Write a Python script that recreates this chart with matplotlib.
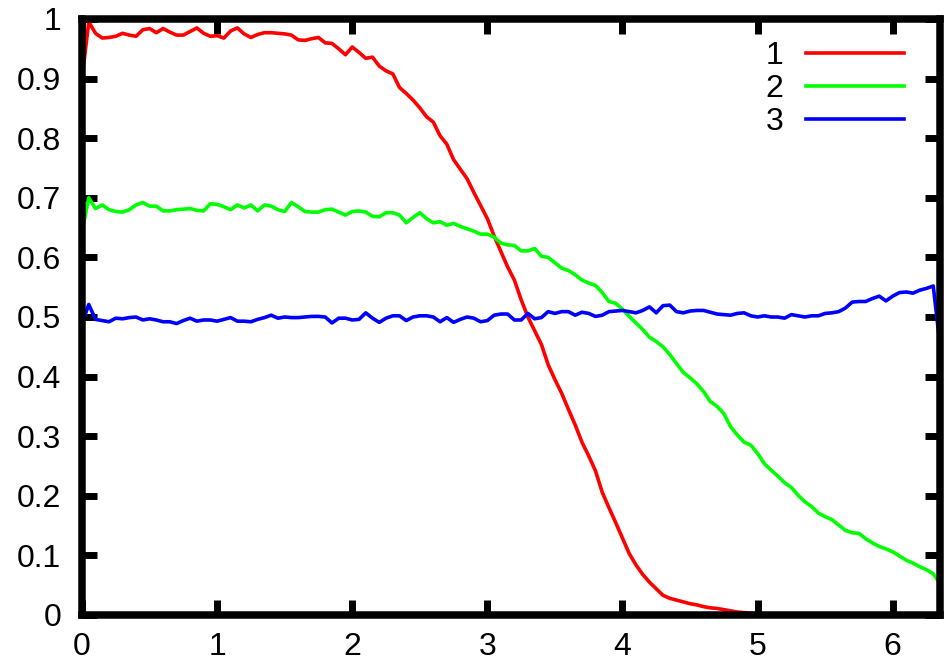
import numpy as np
import matplotlib
matplotlib.use("Agg")
import matplotlib.pyplot as plt

plt.rcParams['font.family'] = ['Liberation Sans', 'DejaVu Sans']

# sample positions (step 0.05 from 0 to 6.35)
x = np.round(np.arange(128) * 0.05, 2)

series_labels = ['1', '2', '3']
series_colors = ['#ff0000', '#00ff00', '#0000ff']

curve_1 = [
    0.900, 0.995, 0.976, 0.968, 0.969, 0.971, 0.976, 0.973, 0.971, 0.982,
    0.984, 0.977, 0.984, 0.978, 0.973, 0.973, 0.979, 0.985, 0.976, 0.971,
    0.972, 0.968, 0.980, 0.985, 0.975, 0.969, 0.974, 0.977, 0.977, 0.976,
    0.975, 0.973, 0.965, 0.964, 0.967, 0.969, 0.960, 0.959, 0.950, 0.940,
    0.953, 0.944, 0.934, 0.936, 0.921, 0.913, 0.908, 0.885, 0.875, 0.864,
    0.851, 0.836, 0.827, 0.804, 0.790, 0.764, 0.748, 0.732, 0.709, 0.687,
    0.665, 0.636, 0.610, 0.584, 0.562, 0.529, 0.500, 0.477, 0.454, 0.420,
    0.395, 0.372, 0.345, 0.319, 0.290, 0.267, 0.242, 0.206, 0.180, 0.155,
    0.129, 0.103, 0.084, 0.068, 0.055, 0.044, 0.033, 0.028, 0.025, 0.022,
    0.019, 0.017, 0.014, 0.012, 0.011, 0.009, 0.007, 0.005, 0.004, 0.003,
    0.002, 0.001, 0.000, 0.000, 0.000, 0.000, 0.000, 0.000, 0.000, 0.000,
    0.000, 0.000, 0.000, 0.000, 0.000, 0.000, 0.000, 0.000, 0.000, 0.000,
    0.000, 0.000, 0.000, 0.000, 0.000, 0.000, 0.000, 0.000,
]

curve_2 = [
    0.643, 0.700, 0.682, 0.688, 0.680, 0.677, 0.676, 0.680, 0.688, 0.692,
    0.686, 0.686, 0.678, 0.678, 0.680, 0.681, 0.682, 0.679, 0.678, 0.690,
    0.689, 0.685, 0.680, 0.688, 0.683, 0.688, 0.678, 0.688, 0.686, 0.680,
    0.677, 0.692, 0.685, 0.677, 0.676, 0.676, 0.680, 0.681, 0.676, 0.671,
    0.677, 0.678, 0.676, 0.669, 0.668, 0.675, 0.675, 0.671, 0.658, 0.667,
    0.675, 0.665, 0.658, 0.660, 0.654, 0.657, 0.652, 0.648, 0.644, 0.639,
    0.639, 0.634, 0.624, 0.621, 0.620, 0.611, 0.611, 0.615, 0.602, 0.600,
    0.591, 0.582, 0.578, 0.571, 0.562, 0.557, 0.553, 0.541, 0.526, 0.523,
    0.513, 0.501, 0.490, 0.479, 0.466, 0.459, 0.450, 0.437, 0.422, 0.407,
    0.398, 0.388, 0.375, 0.358, 0.350, 0.338, 0.316, 0.302, 0.290, 0.285,
    0.271, 0.254, 0.243, 0.233, 0.222, 0.214, 0.201, 0.190, 0.182, 0.171,
    0.165, 0.160, 0.151, 0.142, 0.138, 0.137, 0.128, 0.121, 0.115, 0.111,
    0.106, 0.099, 0.092, 0.087, 0.081, 0.076, 0.069, 0.053,
]

curve_3 = [
    0.489, 0.521, 0.496, 0.494, 0.492, 0.498, 0.497, 0.499, 0.500, 0.495,
    0.497, 0.495, 0.492, 0.492, 0.489, 0.494, 0.498, 0.493, 0.495, 0.495,
    0.493, 0.496, 0.499, 0.493, 0.493, 0.492, 0.496, 0.499, 0.503, 0.498,
    0.500, 0.499, 0.499, 0.500, 0.501, 0.501, 0.500, 0.490, 0.498, 0.498,
    0.495, 0.496, 0.507, 0.498, 0.491, 0.498, 0.502, 0.502, 0.494, 0.500,
    0.502, 0.502, 0.500, 0.492, 0.499, 0.491, 0.496, 0.500, 0.498, 0.492,
    0.494, 0.503, 0.505, 0.505, 0.495, 0.495, 0.506, 0.497, 0.499, 0.509,
    0.506, 0.509, 0.509, 0.503, 0.508, 0.506, 0.501, 0.503, 0.509, 0.510,
    0.511, 0.509, 0.507, 0.511, 0.517, 0.507, 0.519, 0.520, 0.509, 0.507,
    0.510, 0.511, 0.511, 0.508, 0.505, 0.504, 0.503, 0.506, 0.507, 0.502,
    0.500, 0.502, 0.500, 0.500, 0.498, 0.504, 0.502, 0.500, 0.502, 0.502,
    0.506, 0.507, 0.509, 0.515, 0.525, 0.526, 0.526, 0.531, 0.535, 0.527,
    0.535, 0.541, 0.542, 0.540, 0.545, 0.548, 0.552, 0.453,
]

x_ticks = [0, 1, 2, 3, 4, 5, 6]
y_ticks = [0, 0.1, 0.2, 0.3, 0.4, 0.5, 0.6, 0.7, 0.8, 0.9, 1]
y_tick_labels = ['0', '0.1', '0.2', '0.3', '0.4', '0.5', '0.6', '0.7', '0.8', '0.9', '1']

fig = plt.figure(figsize=(9.44, 6.66), dpi=100)
ax = fig.add_axes([82 / 944, 51 / 666, 858 / 944, 596 / 666])

for ys, lab, col in zip([curve_1, curve_2, curve_3], series_labels, series_colors):
    ax.plot(x, ys, color=col, linewidth=2.6, label=lab)

ax.set_xlim(0, 6.35)
ax.set_ylim(0, 1)
ax.set_xticks(x_ticks)
ax.set_xticklabels([str(t) for t in x_ticks])
ax.set_yticks(y_ticks)
ax.set_yticklabels(y_tick_labels)

for sp in ax.spines.values():
    sp.set_linewidth(5.4)
    sp.set_zorder(5)

ax.tick_params(axis='both', which='major', direction='in', length=11, width=5,
               top=True, right=True, labelsize=23, color='black')
ax.tick_params(axis='y', pad=15)
ax.tick_params(axis='x', pad=12)

ax.legend(loc='upper right', bbox_to_anchor=(0.958, 0.963), frameon=False,
          markerfirst=False, fontsize=23, handlelength=3.06, handletextpad=0.72,
          labelspacing=0.09, borderpad=0, borderaxespad=0)

fig.savefig('out.png', dpi=100)
